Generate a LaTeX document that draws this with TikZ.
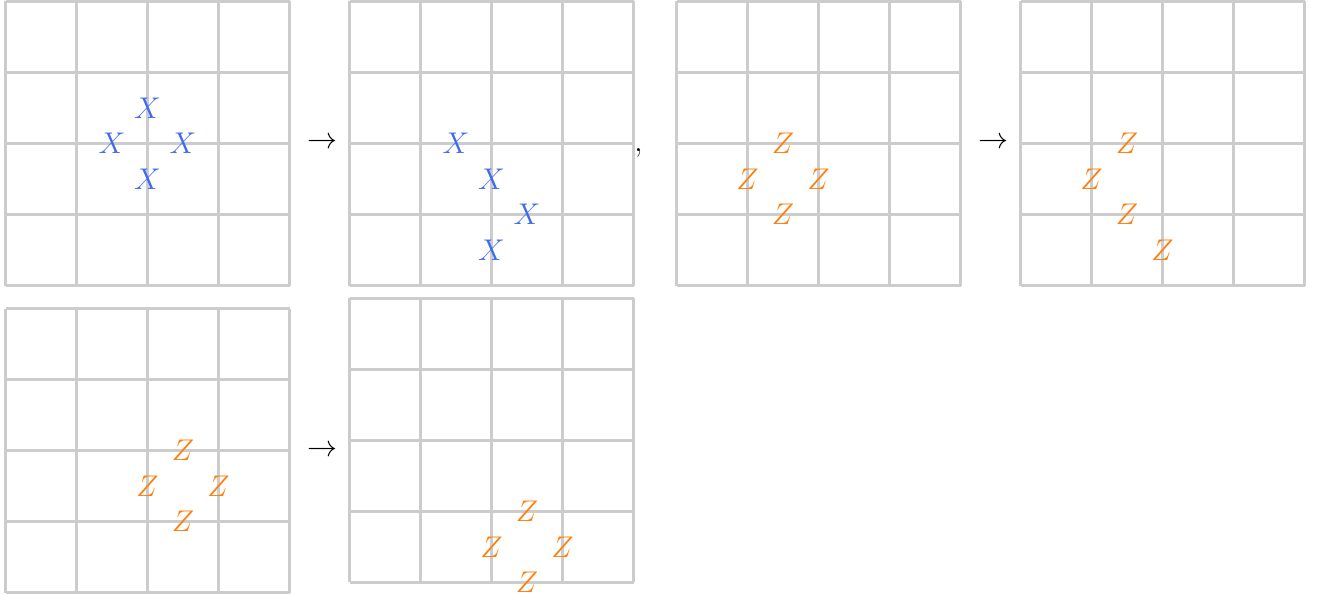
\documentclass[tikz,border=0pt]{standalone}
\usepackage{tikz}
\usetikzlibrary{positioning}

\definecolor{gridgray}{RGB}{204,204,204}
\definecolor{xblue}{RGB}{64,106,240}
\definecolor{zorange}{RGB}{255,127,14}

\tikzset{
  gridline/.style={draw=gridgray, line width=1.1pt},
  xop/.style={text=xblue, font=\large, inner sep=0pt},
  zop/.style={text=zorange, font=\large, inner sep=0pt},
  sym/.style={font=\large, inner sep=0pt}
}

\begin{document}
\begin{tikzpicture}[x=1cm,y=-1cm]
  \useasboundingbox (0,0) rectangle (18.549,8.394);

  % the six 4x4 lattices
  \foreach \gname/\gx/\gy in {ga/0.0775/0.0211, gb/4.9225/0.0211,
      gc/9.528/0.0211, gd/14.373/0.0211, ge/0.0775/4.345, gf/4.9225/4.204}
  {
    \begin{scope}[shift={(\gx,\gy)}]
      \foreach \k in {0,...,4} {
        \draw[gridline] (\k,0) -- (\k,4);
        \draw[gridline] (0,\k) -- (4,\k);
      }
    \end{scope}
  }

  % star of X operators, then its image
  \begin{scope}[shift={(0.0775,0.0211)}]
    \foreach \px/\py [count=\i] in {2/1.5, 1.5/2, 2.5/2, 2/2.5}
      \node[xop] (xa\i) at (\px,\py) {$X$};
  \end{scope}
  \begin{scope}[shift={(4.9225,0.0211)}]
    \foreach \px/\py [count=\i] in {1.5/2, 2/2.5, 2.5/3, 2/3.5}
      \node[xop] (xb\i) at (\px,\py) {$X$};
  \end{scope}

  % plaquette of Z operators, then its image
  \begin{scope}[shift={(9.528,0.0211)}]
    \foreach \px/\py [count=\i] in {1.5/2, 1/2.5, 2/2.5, 1.5/3}
      \node[zop] (zc\i) at (\px,\py) {$Z$};
  \end{scope}
  \begin{scope}[shift={(14.373,0.0211)}]
    \foreach \px/\py [count=\i] in {1.5/2, 1/2.5, 1.5/3, 2/3.5}
      \node[zop] (zd\i) at (\px,\py) {$Z$};
  \end{scope}

  % shifted plaquette
  \begin{scope}[shift={(0.0775,4.345)}]
    \foreach \px/\py [count=\i] in {2.5/2, 2/2.5, 3/2.5, 2.5/3}
      \node[zop] (ze\i) at (\px,\py) {$Z$};
  \end{scope}
  \begin{scope}[shift={(4.9225,4.204)}]
    \foreach \px/\py [count=\i] in {2.5/3, 2/3.5, 3/3.5, 2.5/4}
      \node[zop] (zf\i) at (\px,\py) {$Z$};
  \end{scope}

  \node[sym] (arra) at (4.535,2.014) {$\rightarrow$};
  \node[sym, anchor=base] (comma) at (8.993,2.127) {$,$};
  \node[sym] (arrb) at (13.986,2.014) {$\rightarrow$};
  \node[sym] (arrc) at (4.535,6.352) {$\rightarrow$};

\end{tikzpicture}
\end{document}
